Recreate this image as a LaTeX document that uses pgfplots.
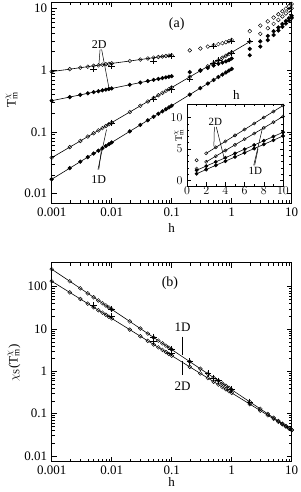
\documentclass[border=0pt]{standalone}
\usepackage{fontspec}
\setmainfont{Liberation Serif}
\usepackage{pgfplots}
\pgfplotsset{compat=1.18}
\newcommand{\Tm}{T$^{\chi}_{\mathrm{m}}$}
\begin{document}
\fontsize{13}{15}\selectfont
\begin{tikzpicture}
\useasboundingbox (0pt,0pt) rectangle (300pt,492pt);
\pgfplotsset{
  myax/.style={
    scale only axis, anchor=south west,
    axis line style={line width=0.6pt},
    every tick/.style={black, line width=0.5pt},
    major tick length=5pt, minor tick length=3pt,
    tick label style={font=\fontsize{13}{15}\selectfont},
    label style={font=\fontsize{13}{15}\selectfont},
    every axis plot/.append style={black, line width=0.6pt},
  },
  lo/.style={mark=o, mark size=1.9pt, mark options={solid, line width=0.45pt}},
  lf/.style={mark=*, mark size=1.8pt, mark options={solid}},
  lp/.style={only marks, mark=+, mark size=3.2pt, mark options={line width=0.6pt}},
}
% ---------------- top panel ----------------
\begin{axis}[myax, name=top, at={(51.7pt,289pt)}, width=240pt, height=201pt,
  xmode=log, ymode=log, xmin=0.001, xmax=10, ymin=0.007, ymax=12.8,
  xtick={0.001,0.01,0.1,1,10}, xticklabels={0.001,0.01,0.1,1,10},
  ytick={0.01,0.1,1,10}, yticklabels={0.01,0.1,1,10},
  xlabel={h}, xlabel style={at={(axis description cs:0.5,0)}, anchor=north, inner sep=0pt, yshift=-20pt},
  ylabel={\Tm}, ylabel style={at={(axis description cs:-0.167,0.512)}, anchor=center},
  clip=false]
% 2D open (A)
\addplot[lo] coordinates {(0.001,0.95)(0.002,1.04)(0.003,1.10)(0.004,1.14)(0.005,1.18)(0.006,1.20)(0.007,1.23)(0.008,1.25)(0.009,1.27)(0.01,1.29)(0.02,1.41)(0.03,1.49)(0.04,1.55)(0.05,1.60)(0.06,1.64)(0.07,1.67)(0.08,1.70)(0.09,1.73)(0.1,1.75)};
\addplot[lo, only marks] coordinates {(0.2,2.1)(0.3,2.25)(0.4,2.42)(0.5,2.55)(0.6,2.65)(0.7,2.75)(0.8,2.85)(0.9,2.95)(1,3.1)(2,4.3)(3,5.3)(4,6.2)(5,7.15)(6,8.1)(7,9.05)(8,10.0)(9,10.95)(10,11.9)};
% 2D filled (B)
\addplot[lf] coordinates {(0.001,0.32)(0.002,0.367)(0.003,0.398)(0.004,0.422)(0.005,0.441)(0.006,0.457)(0.007,0.471)(0.008,0.484)(0.009,0.496)(0.01,0.506)(0.02,0.581)(0.03,0.63)(0.04,0.667)(0.05,0.697)(0.06,0.723)(0.07,0.745)(0.08,0.765)(0.09,0.784)(0.1,0.80)};
\addplot[lf, only marks] coordinates {(0.2,0.93)(0.3,1.0)(0.4,1.09)(0.5,1.19)(0.6,1.27)(0.7,1.33)(0.8,1.39)(0.9,1.46)(1,1.55)(2,2.22)(3,2.94)(4,3.6)(5,4.28)(6,4.95)(7,5.62)(8,6.3)(9,6.97)(10,7.65)};
% 1D open (C)
\addplot[lo] coordinates {(0.001,0.038)(0.002,0.0564)(0.003,0.0711)(0.004,0.0837)(0.005,0.095)(0.006,0.1055)(0.007,0.1151)(0.008,0.1243)(0.009,0.133)(0.01,0.1412)(0.02,0.2096)(0.03,0.264)(0.04,0.311)(0.05,0.353)(0.06,0.392)(0.07,0.428)(0.08,0.462)(0.09,0.494)(0.1,0.524)(0.2,0.779)(0.3,0.981)(0.4,1.156)(0.5,1.312)(0.6,1.457)(0.7,1.59)(0.8,1.716)(0.9,1.835)(1,1.949)(2,2.9)};
\addplot[lo, only marks] coordinates {(3,3.9)(4,4.8)(5,5.65)(6,6.55)(7,7.45)(8,8.35)(9,9.25)(10,10.16)};
% 1D filled (D)
\addplot[lf] coordinates {(0.001,0.017)(0.002,0.0257)(0.003,0.0328)(0.004,0.0389)(0.005,0.0444)(0.006,0.0495)(0.007,0.0543)(0.008,0.0589)(0.009,0.0631)(0.01,0.0672)(0.02,0.1017)(0.03,0.1295)(0.04,0.1538)(0.05,0.1757)(0.06,0.196)(0.07,0.2148)(0.08,0.2326)(0.09,0.2496)(0.1,0.2658)(0.2,0.402)(0.3,0.512)(0.4,0.608)(0.5,0.695)(0.6,0.775)(0.7,0.849)(0.8,0.92)(0.9,0.987)(1,1.05)};
\addplot[lf, only marks] coordinates {(2,1.75)(3,2.42)(4,3.08)(5,3.74)(6,4.4)(7,5.06)(8,5.72)(9,6.39)(10,7.06)};
% plus marks
\addplot[lp] coordinates {(0.005,1.05)(0.01,1.17)(0.05,1.42)(0.1,1.7)(0.5,2.45)(1,3.0)};
\addplot[lp] coordinates {(0.01,0.14)(0.05,0.34)(0.1,0.49)(0.2,0.72)(0.5,1.3)(0.6,1.45)(1,1.9)(2,2.95)};
% labels
\node[font=\fontsize{14}{16}\selectfont] at (axis cs:0.121,5.5) {(a)};
\node[font=\fontsize{12}{14}\selectfont] at (axis cs:0.0062,2.61) {2D};
\draw[line width=0.5pt] (axis cs:0.0064,2.17) -- (axis cs:0.0061,1.18);
\draw[line width=0.5pt] (axis cs:0.0068,2.17) -- (axis cs:0.0091,0.486);
\node[font=\fontsize{12}{14}\selectfont] at (axis cs:0.0061,0.0168) {1D};
\draw[line width=0.5pt] (axis cs:0.0059,0.0244) -- (axis cs:0.0082,0.109);
\draw[line width=0.5pt] (axis cs:0.0061,0.0244) -- (axis cs:0.0068,0.055);
\end{axis}
% ---------------- inset ----------------
\begin{axis}[myax, at={(187pt,306pt)}, width=96pt, height=82pt,
  axis background/.style={fill=white},
  xmin=0, xmax=10, ymin=-0.9, ymax=12.15,
  xtick={0,2,4,6,8,10}, ytick={0,5,10}, minor x tick num=1, minor y tick num=4,
  major tick length=3.5pt, minor tick length=2pt,
  tick label style={font=\fontsize{11.5}{13}\selectfont},
  xticklabel style={inner sep=1pt},
  xlabel={h}, xlabel style={at={(axis description cs:0.515,1)}, anchor=south, inner sep=0pt, yshift=4pt},
  ylabel={\Tm}, ylabel style={at={(axis description cs:-0.085,0.615)}, anchor=center, inner sep=0pt, font=\fontsize{10}{12}\selectfont},
  clip=false]
\addplot[lo, mark size=1.6pt] coordinates {(2,4.3)(3,5.25)(4,6.2)(5,7.15)(6,8.1)(7,9.05)(8,10.0)(9,10.95)(10,11.9)};
\addplot[lo, mark size=1.6pt, only marks] coordinates {(1,3.2)(1,1.87)};
\addplot[lo, mark size=1.6pt] coordinates {(2,2.94)(3,3.85)(4,4.75)(5,5.65)(6,6.55)(7,7.45)(8,8.35)(9,9.25)(10,10.16)};
\addplot[lf, mark size=1.6pt] coordinates {(1,1.6)(2,2.27)(3,2.94)(4,3.6)(5,4.28)(6,4.95)(7,5.62)(8,6.3)(9,6.97)(10,7.65)};
\addplot[lf, mark size=1.6pt] coordinates {(1,1.05)(2,1.72)(3,2.39)(4,3.05)(5,3.72)(6,4.39)(7,5.06)(8,5.72)(9,6.39)(10,7.06)};
\node[font=\fontsize{11}{13}\selectfont] at (axis cs:2.96,9.36) {2D};
\draw[line width=0.5pt] (axis cs:2.85,8.5) -- (axis cs:2.8,5.4);
\draw[line width=0.5pt] (axis cs:3.05,8.5) -- (axis cs:3.87,3.55);
\node[font=\fontsize{11}{13}\selectfont] at (axis cs:7.11,1.44) {1D};
\draw[line width=0.5pt] (axis cs:6.95,2.4) -- (axis cs:7.89,8.5);
\draw[line width=0.5pt] (axis cs:7.05,2.4) -- (axis cs:7.4,5.0);
\end{axis}
% ---------------- bottom panel ----------------
\begin{axis}[myax, at={(51.7pt,30.3pt)}, width=240pt, height=199pt,
  xmode=log, ymode=log, xmin=0.001, xmax=10, ymin=0.0073, ymax=370,
  xtick={0.001,0.01,0.1,1,10}, xticklabels={0.001,0.01,0.1,1,10},
  ytick={0.01,0.1,1,10,100}, yticklabels={0.01,0.1,1,10,100},
  xlabel={h}, xlabel style={at={(axis description cs:0.5,0)}, anchor=north, inner sep=0pt, yshift=-16pt},
  ylabel={$\chi_{\mathrm{S}}$(\Tm)}, ylabel style={at={(axis description cs:-0.157,0.496)}, anchor=center},
  clip=false]
\addplot[lo] coordinates {(0.001,260)(0.002,134.6)(0.003,91.6)(0.004,69.7)(0.005,56.3)(0.006,47.4)(0.007,40.9)(0.008,36.1)(0.009,32.3)(0.01,29.2)(0.02,15.1)(0.03,10.27)(0.04,7.82)(0.05,6.32)(0.06,5.32)(0.07,4.59)(0.08,4.05)(0.09,3.62)(0.1,3.27)(0.2,1.694)(0.3,1.153)(0.4,0.877)(0.5,0.709)(0.6,0.597)(0.7,0.515)(0.8,0.454)(0.9,0.406)(1,0.367)(2,0.19)(3,0.1294)(4,0.0984)(5,0.0796)(6,0.067)(7,0.0578)(8,0.051)(9,0.0456)(10,0.0412)};
\addplot[lo] coordinates {(0.001,135)(0.002,73.4)(0.003,51.3)(0.004,39.9)(0.005,32.8)(0.006,27.9)(0.007,24.4)(0.008,21.7)(0.009,19.5)(0.01,17.8)(0.02,9.67)(0.03,6.76)(0.04,5.25)(0.05,4.32)(0.06,3.68)(0.07,3.21)(0.08,2.86)(0.09,2.57)(0.1,2.35)(0.2,1.275)(0.3,0.893)(0.4,0.693)(0.5,0.569)(0.6,0.485)(0.7,0.423)(0.8,0.377)(0.9,0.339)(1,0.309)(2,0.168)(3,0.1177)(4,0.0914)(5,0.0751)(6,0.064)(7,0.0559)(8,0.0497)(9,0.0448)(10,0.0408)};
\addplot[lp] coordinates {(0.01,29.5)(0.05,6.5)(0.1,3.3)(0.2,1.7)(0.4,0.88)(0.5,0.7)(0.6,0.6)(1,0.37)(2,0.19)};
\addplot[lp] coordinates {(0.005,37)(0.01,20.5)(0.05,5.0)(0.1,2.7)};
\node[font=\fontsize{14}{16}\selectfont] at (axis cs:0.0935,124) {(b)};
\node[font=\fontsize{13}{15}\selectfont] at (axis cs:0.152,11) {1D};
\draw[line width=0.5pt] (axis cs:0.15,6.6) -- (axis cs:0.15,2.4);
\node[font=\fontsize{13}{15}\selectfont] at (axis cs:0.152,0.45) {2D};
\draw[line width=0.5pt] (axis cs:0.15,1.78) -- (axis cs:0.15,0.82);
\end{axis}
\end{tikzpicture}
\end{document}
